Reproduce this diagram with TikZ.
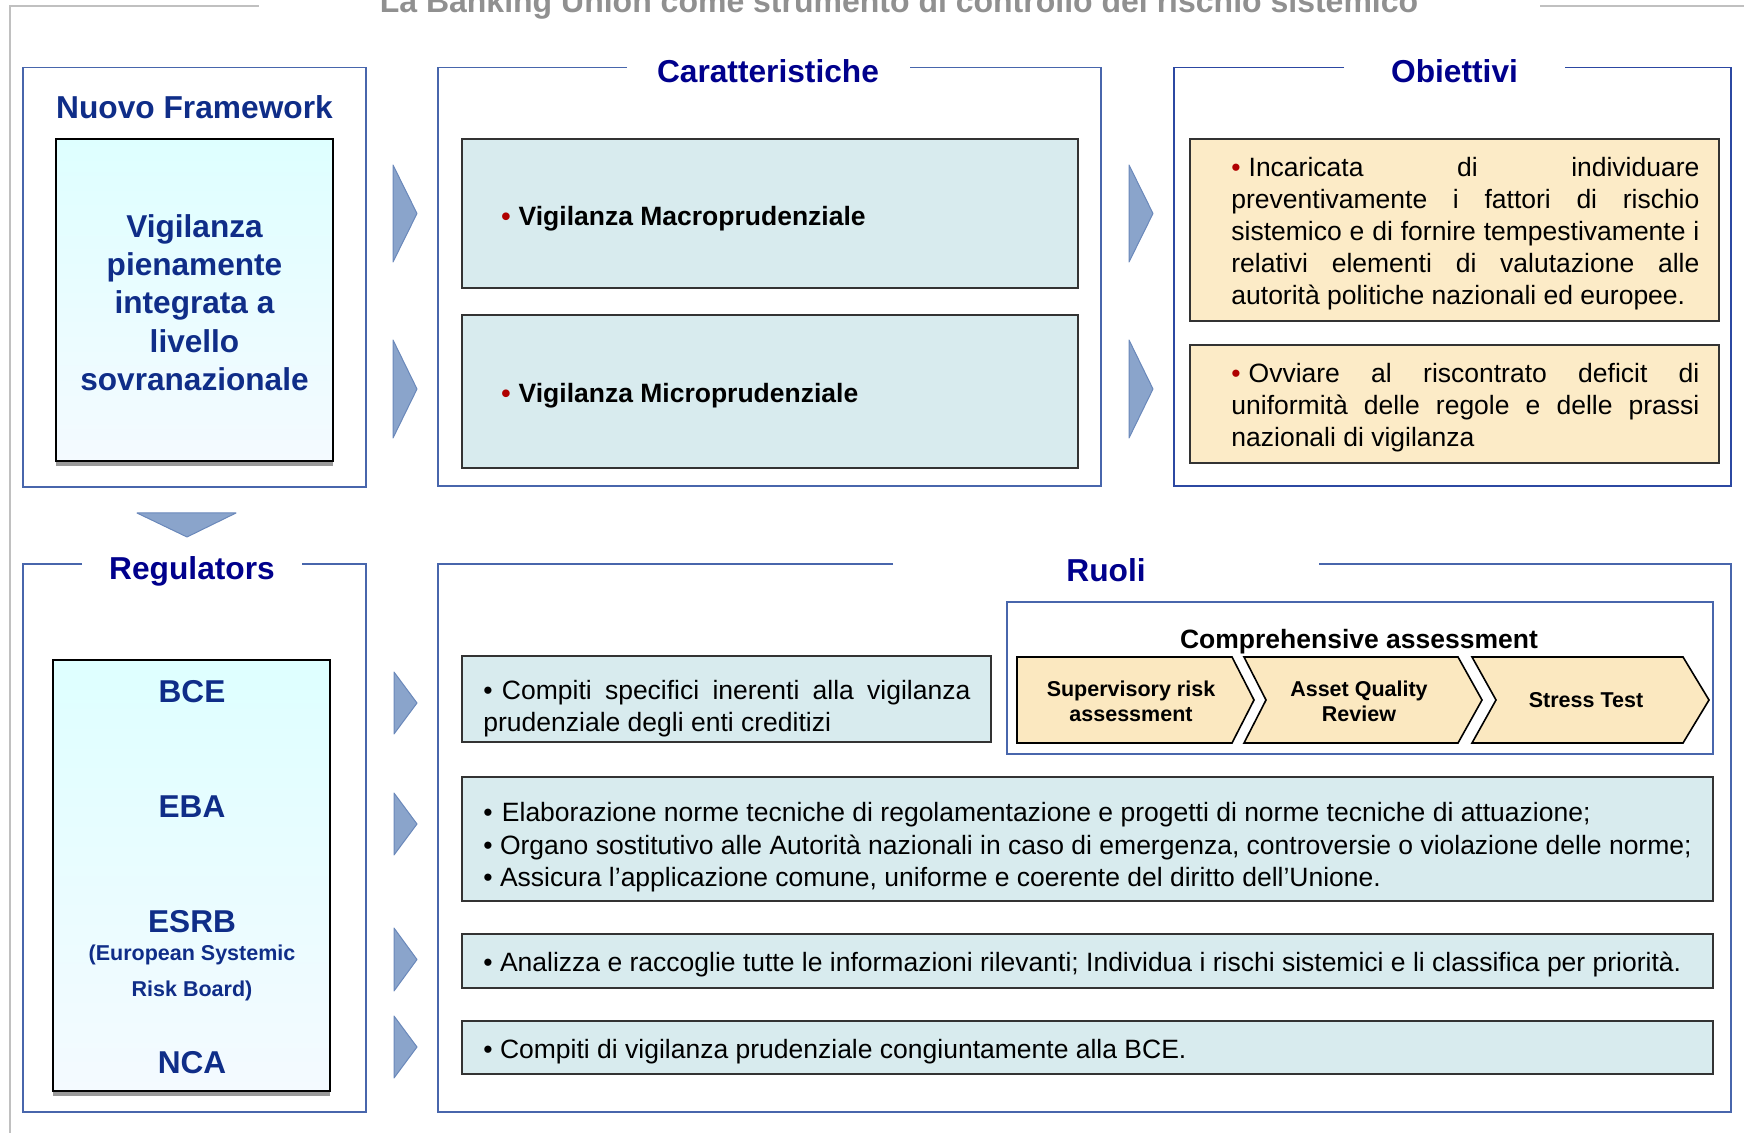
\documentclass[tikz,border=0pt]{standalone}
\usepackage{fontspec}
\setmainfont{Liberation Sans}
\hbadness=10000
\hfuzz=6pt
\definecolor{greyline}{HTML}{C0C0C0}
\definecolor{titlegrey}{HTML}{909090}
\definecolor{frameblue}{HTML}{4866AC}
\definecolor{obiblue}{HTML}{2C48A2}
\definecolor{headblue}{HTML}{00008C}
\definecolor{navy}{HTML}{0F2D88}
\definecolor{arrowfill}{HTML}{8AA4CB}
\definecolor{arrowdraw}{HTML}{6A88BA}
\definecolor{boxblue}{HTML}{D8EBEE}
\definecolor{yelfill}{HTML}{FCEBC7}
\definecolor{chevfill}{HTML}{FBE8C0}
\definecolor{bulletred}{HTML}{B00000}
\definecolor{cyantop}{HTML}{DEFFFF}
\definecolor{cyanbot}{HTML}{F4FAFF}
\newcommand\mybox[6]{\node[#2, anchor=north west, inner sep=0pt, outer sep=0pt,
  minimum width={(#5-#3)*0.5pt}, minimum height={(#6-#4)*0.5pt}] (#1) at (#3,#4) {};}
\newcommand\redbul{\textcolor{bulletred}{•}\hspace{0.3em}}
\newcommand\blkbul{•\hspace{0.35em}}
\begin{document}
\begin{tikzpicture}[x=0.5pt,y=-0.5pt,
  greyframe/.style={draw=greyline, line width=1pt},
  titletxt/.style={font=\bfseries\fontsize{16}{19}\selectfont, text=titlegrey, anchor=base, inner sep=0pt},
  frame/.style={draw=frameblue, line width=0.6pt},
  obframe/.style={draw=obiblue, line width=0.9pt},
  head/.style={font=\bfseries\fontsize{15.85}{19}\selectfont, text=headblue, anchor=base, inner sep=0pt},
  tri/.style={fill=arrowfill, draw=arrowdraw, line width=0.5pt, line join=round},
  innerbox/.style={draw=black, line width=1.1pt, top color=cyantop, bottom color=cyanbot},
  shadowstrip/.style={fill=black!40},
  bluebox/.style={draw=black!80, line width=1pt, fill=boxblue},
  yelbox/.style={draw=black!80, line width=1pt, fill=yelfill},
  compbox/.style={draw=frameblue, line width=0.7pt},
  chev/.style={draw=black, line width=0.8pt, fill=chevfill, line join=miter},
  body/.style={font=\fontsize{13.25}{16}\selectfont, inner sep=0pt},
  boldbody/.style={font=\bfseries\fontsize{13.25}{16}\selectfont, inner sep=0pt},
  bigtxt/.style={font=\bfseries\fontsize{15.8}{19}\selectfont, text=navy, anchor=base, inner sep=0pt},
  smallb/.style={font=\bfseries\fontsize{10.75}{12.5}\selectfont, inner sep=0pt, align=center},
  smallnavy/.style={font=\bfseries\fontsize{10.75}{12.5}\selectfont, text=navy, anchor=base, inner sep=0pt}
]
\useasboundingbox (0,0) rectangle (1744,1133);

% ---------- grey page frame and title ----------
\draw[greyframe] (10,1133) -- (10,6) -- (259,6);
\draw[greyframe] (1540,6) -- (1744,6);
\node[titletxt] (title) at (899,13) {La Banking Union come strumento di controllo del rischio sistemico};

% ---------- Nuovo Framework ----------
\draw[frame] (23,67.5) rectangle (366,487);
\node[head, text=navy] (nfhead) at (194.5,119) {Nuovo Framework};
\fill[shadowstrip] (56,461) rectangle (333,466);
\mybox{nfbox}{innerbox}{56}{139}{333}{461}
\node[bigtxt] (nf1) at (194.5,238) {Vigilanza};
\node[bigtxt] (nf2) at (194.5,276) {pienamente};
\node[bigtxt] (nf3) at (194.5,314) {integrata a};
\node[bigtxt] (nf4) at (194.5,352.5) {livello};
\node[bigtxt] (nf5) at (194.5,391) {sovranazionale};

% ---------- arrows top ----------
\draw[tri] (393,165) -- (417,213.5) -- (393,262) -- cycle;
\draw[tri] (393,340) -- (417,389) -- (393,438) -- cycle;
\draw[tri] (1129,165) -- (1153,213.5) -- (1129,262) -- cycle;
\draw[tri] (1129,340) -- (1153,389) -- (1129,438) -- cycle;

% ---------- Caratteristiche ----------
\draw[frame] (627,67.5) -- (438,67.5) -- (438,486) -- (1101,486) -- (1101,67.5) -- (910,67.5);
\node[head] (carhead) at (768,83) {Caratteristiche};
\mybox{macro}{bluebox}{462}{139}{1078}{288}
\mybox{micro}{bluebox}{462}{315}{1078}{468}
\node[boldbody, anchor=base west] (macrot) at (501,226) {\redbul Vigilanza Macroprudenziale};
\node[boldbody, anchor=base west] (microt) at (501,403) {\redbul Vigilanza Microprudenziale};

% ---------- Obiettivi ----------
\draw[obframe] (1344,67.5) -- (1174,67.5) -- (1174,486) -- (1731,486) -- (1731,67.5) -- (1565,67.5);
\node[head] (obhead) at (1454.5,83) {Obiettivi};
\mybox{ob1}{yelbox}{1190}{139}{1719}{321}
\mybox{ob2}{yelbox}{1190}{345}{1719}{463}
\node[body, text width=234pt, align=justify, anchor=north west] (ob1t) at (1231,157)
  {\redbul Incaricata di individuare\linebreak preventivamente i fattori di rischio\linebreak sistemico e di fornire tempestivamente i\linebreak relativi elementi di valutazione alle\linebreak autorità politiche nazionali ed europee.};
\node[body, text width=234pt, align=justify, anchor=north west] (ob2t) at (1231,362.5)
  {\redbul Ovviare al riscontrato deficit di\linebreak uniformità delle regole e delle prassi\linebreak nazionali di vigilanza};

% ---------- down arrow ----------
\draw[tri] (137,513) -- (236,513) -- (187,537) -- cycle;

% ---------- Regulators ----------
\draw[frame] (82,564) -- (23,564) -- (23,1112) -- (366,1112) -- (366,564) -- (302,564);
\node[head] (reghead) at (192,579) {Regulators};
\fill[shadowstrip] (53,1091) rectangle (330,1096);
\mybox{regbox}{innerbox}{53}{660}{330}{1091}
\node[bigtxt] (bce) at (192,702) {BCE};
\node[bigtxt] (eba) at (192,817) {EBA};
\node[bigtxt] (esrb) at (192,932) {ESRB};
\node[smallnavy] (esrb2) at (192,960) {(European Systemic};
\node[smallnavy] (esrb3) at (192,996) {Risk Board)};
\node[bigtxt] (nca) at (192,1073) {NCA};

% ---------- arrows bottom ----------
\draw[tri] (394,672) -- (417,703) -- (394,734) -- cycle;
\draw[tri] (394,793) -- (417,824) -- (394,855) -- cycle;
\draw[tri] (394,928) -- (417,959.5) -- (394,991) -- cycle;
\draw[tri] (394,1016) -- (417,1047) -- (394,1078) -- cycle;

% ---------- Ruoli ----------
\draw[frame] (893,564) -- (438,564) -- (438,1112) -- (1731,1112) -- (1731,564) -- (1319,564);
\node[head] (ruohead) at (1106,581) {Ruoli};

\mybox{rA}{bluebox}{462}{656}{991}{742}
\node[body, text width=243.5pt, align=justify, anchor=north west] (rAt) at (483,680)
  {\blkbul Compiti specifici inerenti alla vigilanza\linebreak prudenziale degli enti creditizi};

\mybox{comp}{compbox}{1007}{602}{1713}{754}
\node[boldbody, anchor=base] (compt) at (1359,648) {Comprehensive assessment};
\draw[chev] (1017,657) -- (1232,657) -- (1254,700) -- (1232,743) -- (1017,743) -- cycle;
\draw[chev] (1244,657) -- (1458,657) -- (1482,700) -- (1458,743) -- (1244,743) -- (1266,700) -- cycle;
\draw[chev] (1472,657) -- (1683,657) -- (1709,700) -- (1683,743) -- (1472,743) -- (1496,700) -- cycle;
\node[smallb] (ch1) at (1131,701) {Supervisory risk\\assessment};
\node[smallb] (ch2) at (1359,701) {Asset Quality\\Review};
\node[smallb] (ch3) at (1586,700) {Stress Test};

\mybox{rB}{bluebox}{462}{777}{1713}{901}
\node[body, anchor=base west] (rB1) at (483,821) {\blkbul Elaborazione norme tecniche di regolamentazione e progetti di norme tecniche di attuazione;};
\node[body, anchor=base west] (rB2) at (483,854) {• Organo sostitutivo alle Autorità nazionali in caso di emergenza, controversie o violazione delle norme;};
\node[body, anchor=base west] (rB3) at (483,886) {• Assicura l’applicazione comune, uniforme e coerente del diritto dell’Unione.};

\mybox{rC}{bluebox}{462}{934}{1713}{988}
\node[body, anchor=base west] (rCt) at (483,971.5) {• Analizza e raccoglie tutte le informazioni rilevanti; Individua i rischi sistemici e li classifica per priorità.};

\mybox{rD}{bluebox}{462}{1021}{1713}{1074}
\node[body, anchor=base west] (rDt) at (483,1058) {• Compiti di vigilanza prudenziale congiuntamente alla BCE.};
\end{tikzpicture}
\end{document}
